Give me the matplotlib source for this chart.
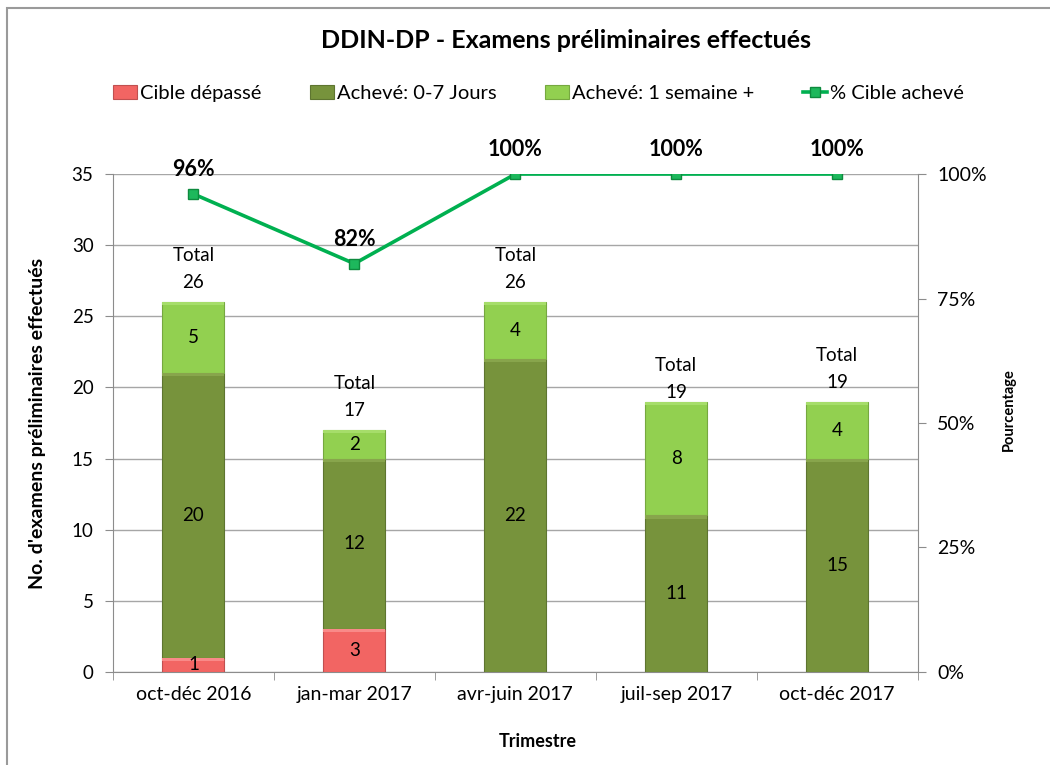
import numpy as np
import matplotlib.pyplot as plt
from matplotlib.patches import Rectangle
from matplotlib.ticker import MultipleLocator, FuncFormatter

plt.rcParams['font.family'] = ['Lato', 'DejaVu Sans']

## DATA

trimestres = ["oct-déc 2016", "jan-mar 2017", "avr-juin 2017", "juil-sep 2017", "oct-déc 2017"]
cible_depasse = [1, 3, 0, 0, 0]
acheve_0_7 = [20, 12, 22, 11, 15]
acheve_1sem = [5, 2, 4, 8, 4]
pct_cible = [96, 82, 100, 100, 100]

## FIGURE

fig = plt.figure(figsize=(10.5, 7.65), dpi=100)
ax = fig.add_axes([0.1076, 0.1216, 0.7664, 0.6509])
ax2 = ax.twinx()

x = np.arange(len(trimestres))
w = 0.385

red = "#F26563"
olive = "#77933C"
lgreen = "#92D050"

b1 = ax.bar(x, cible_depasse, w, color=red, edgecolor="#C05050", linewidth=0.8,
            label="Cible dépassé", zorder=3)
b2 = ax.bar(x, acheve_0_7, w, bottom=cible_depasse, color=olive, edgecolor="#5E7530",
            linewidth=0.8, label="Achevé: 0-7 Jours", zorder=3)
bottom3 = np.array(cible_depasse) + np.array(acheve_0_7)
b3 = ax.bar(x, acheve_1sem, w, bottom=bottom3, color=lgreen, edgecolor="#76A840",
            linewidth=0.8, label="Achevé: 1 semaine +", zorder=3)

# light bevel along the top of each segment
for bars, col in [(b1, "#F98A88"), (b2, "#88A54C"), (b3, "#A6DD6A")]:
    for r in bars:
        if r.get_height() > 0:
            ax.add_patch(Rectangle((r.get_x(), r.get_y() + r.get_height() - 0.22), r.get_width(), 0.22,
                                   facecolor=col, edgecolor="none", zorder=4))

# segment values
for vals, bots in [(cible_depasse, np.zeros(5)),
                   (acheve_0_7, np.array(cible_depasse)),
                   (acheve_1sem, bottom3)]:
    for xi, v, b in zip(x, vals, bots):
        if v > 0:
            ax.text(xi, b + v / 2, str(v), ha="center", va="center", fontsize=13.5, zorder=5)

# totals above each bar
totals = bottom3 + np.array(acheve_1sem)
gaps = [11, 11, 11, 1, 11]
for xi, t, g in zip(x, totals, gaps):
    ax.annotate("Total\n%d" % t, (xi, t), xytext=(0, g * 0.72), textcoords="offset points",
                ha="center", va="bottom", fontsize=13.5, linespacing=1.7, zorder=5)

ax.set_ylim(0, 35)
ax.set_xlim(-0.5, len(trimestres) - 0.5)
ax.yaxis.set_major_locator(MultipleLocator(5))
ax.set_xticks(x)
ax.set_xticklabels(trimestres, fontsize=14)
ax.set_xticks(np.arange(-0.5, len(trimestres)), minor=True)
ax.tick_params(axis="x", which="major", length=0, pad=10)
ax.tick_params(axis="x", which="minor", length=6, color="#8C8C8C")
ax.tick_params(axis="y", labelsize=13.5, length=6, color="#8C8C8C", pad=8)
ax.grid(axis="y", color="#A6A6A6", linewidth=1, zorder=0)
ax.set_axisbelow(True)
for s in ["left", "right", "bottom"]:
    ax.spines[s].set_color("#8C8C8C")
ax.spines["top"].set_visible(False)
ax.set_ylabel("No. d'examens préliminaires effectués", fontsize=14, fontweight="bold")
ax.yaxis.set_label_coords(-0.083, 0.5)
ax.set_xlabel("Trimestre", fontsize=13, fontweight="bold")
ax.xaxis.set_label_coords(0.528, -0.123)

# percentage line
ax2.plot(x, pct_cible, color="#00B050", linewidth=2.6, marker="s", markersize=7.5,
         markerfacecolor="#1DB85C", markeredgecolor="#0E8A3E", label="% Cible achevé", zorder=6)
for xi, p in zip(x, pct_cible):
    ax2.annotate("%d%%" % p, (xi, p), xytext=(0, 10), textcoords="offset points",
                 ha="center", va="bottom", fontsize=15.5, fontweight="bold")
ax2.set_ylim(0, 100)
ax2.yaxis.set_major_locator(MultipleLocator(25))
ax2.yaxis.set_major_formatter(FuncFormatter(lambda v, _: "%d%%" % v))
ax2.tick_params(axis="y", labelsize=14, length=6, color="#8C8C8C", pad=8)
for s in ["left", "right", "bottom", "top"]:
    ax2.spines[s].set_visible(False)
ax2.set_ylabel("Pourcentage", fontsize=10.5, fontweight="bold")
ax2.yaxis.set_label_coords(1.104, 0.528)

fig.suptitle("DDIN-DP - Examens préliminaires effectués", x=0.539, y=0.962,
             fontsize=18, fontweight="bold")

handles = [b1, b2, b3] + ax2.get_lines()
fig.legend(handles, [h.get_label() for h in handles], loc="center", ncol=4,
           bbox_to_anchor=(0.513, 0.878), frameon=False, fontsize=14.5,
           handlelength=1.2, handletextpad=0.15, columnspacing=2.4)

# outer chart frame
fig.patches.append(Rectangle((7 / 1050, -0.1), 1.2, 1 - 8 / 765 + 0.1, transform=fig.transFigure,
                             fill=False, edgecolor="#9A9A9A", linewidth=1.5))

fig.savefig("out.png", dpi=100)
